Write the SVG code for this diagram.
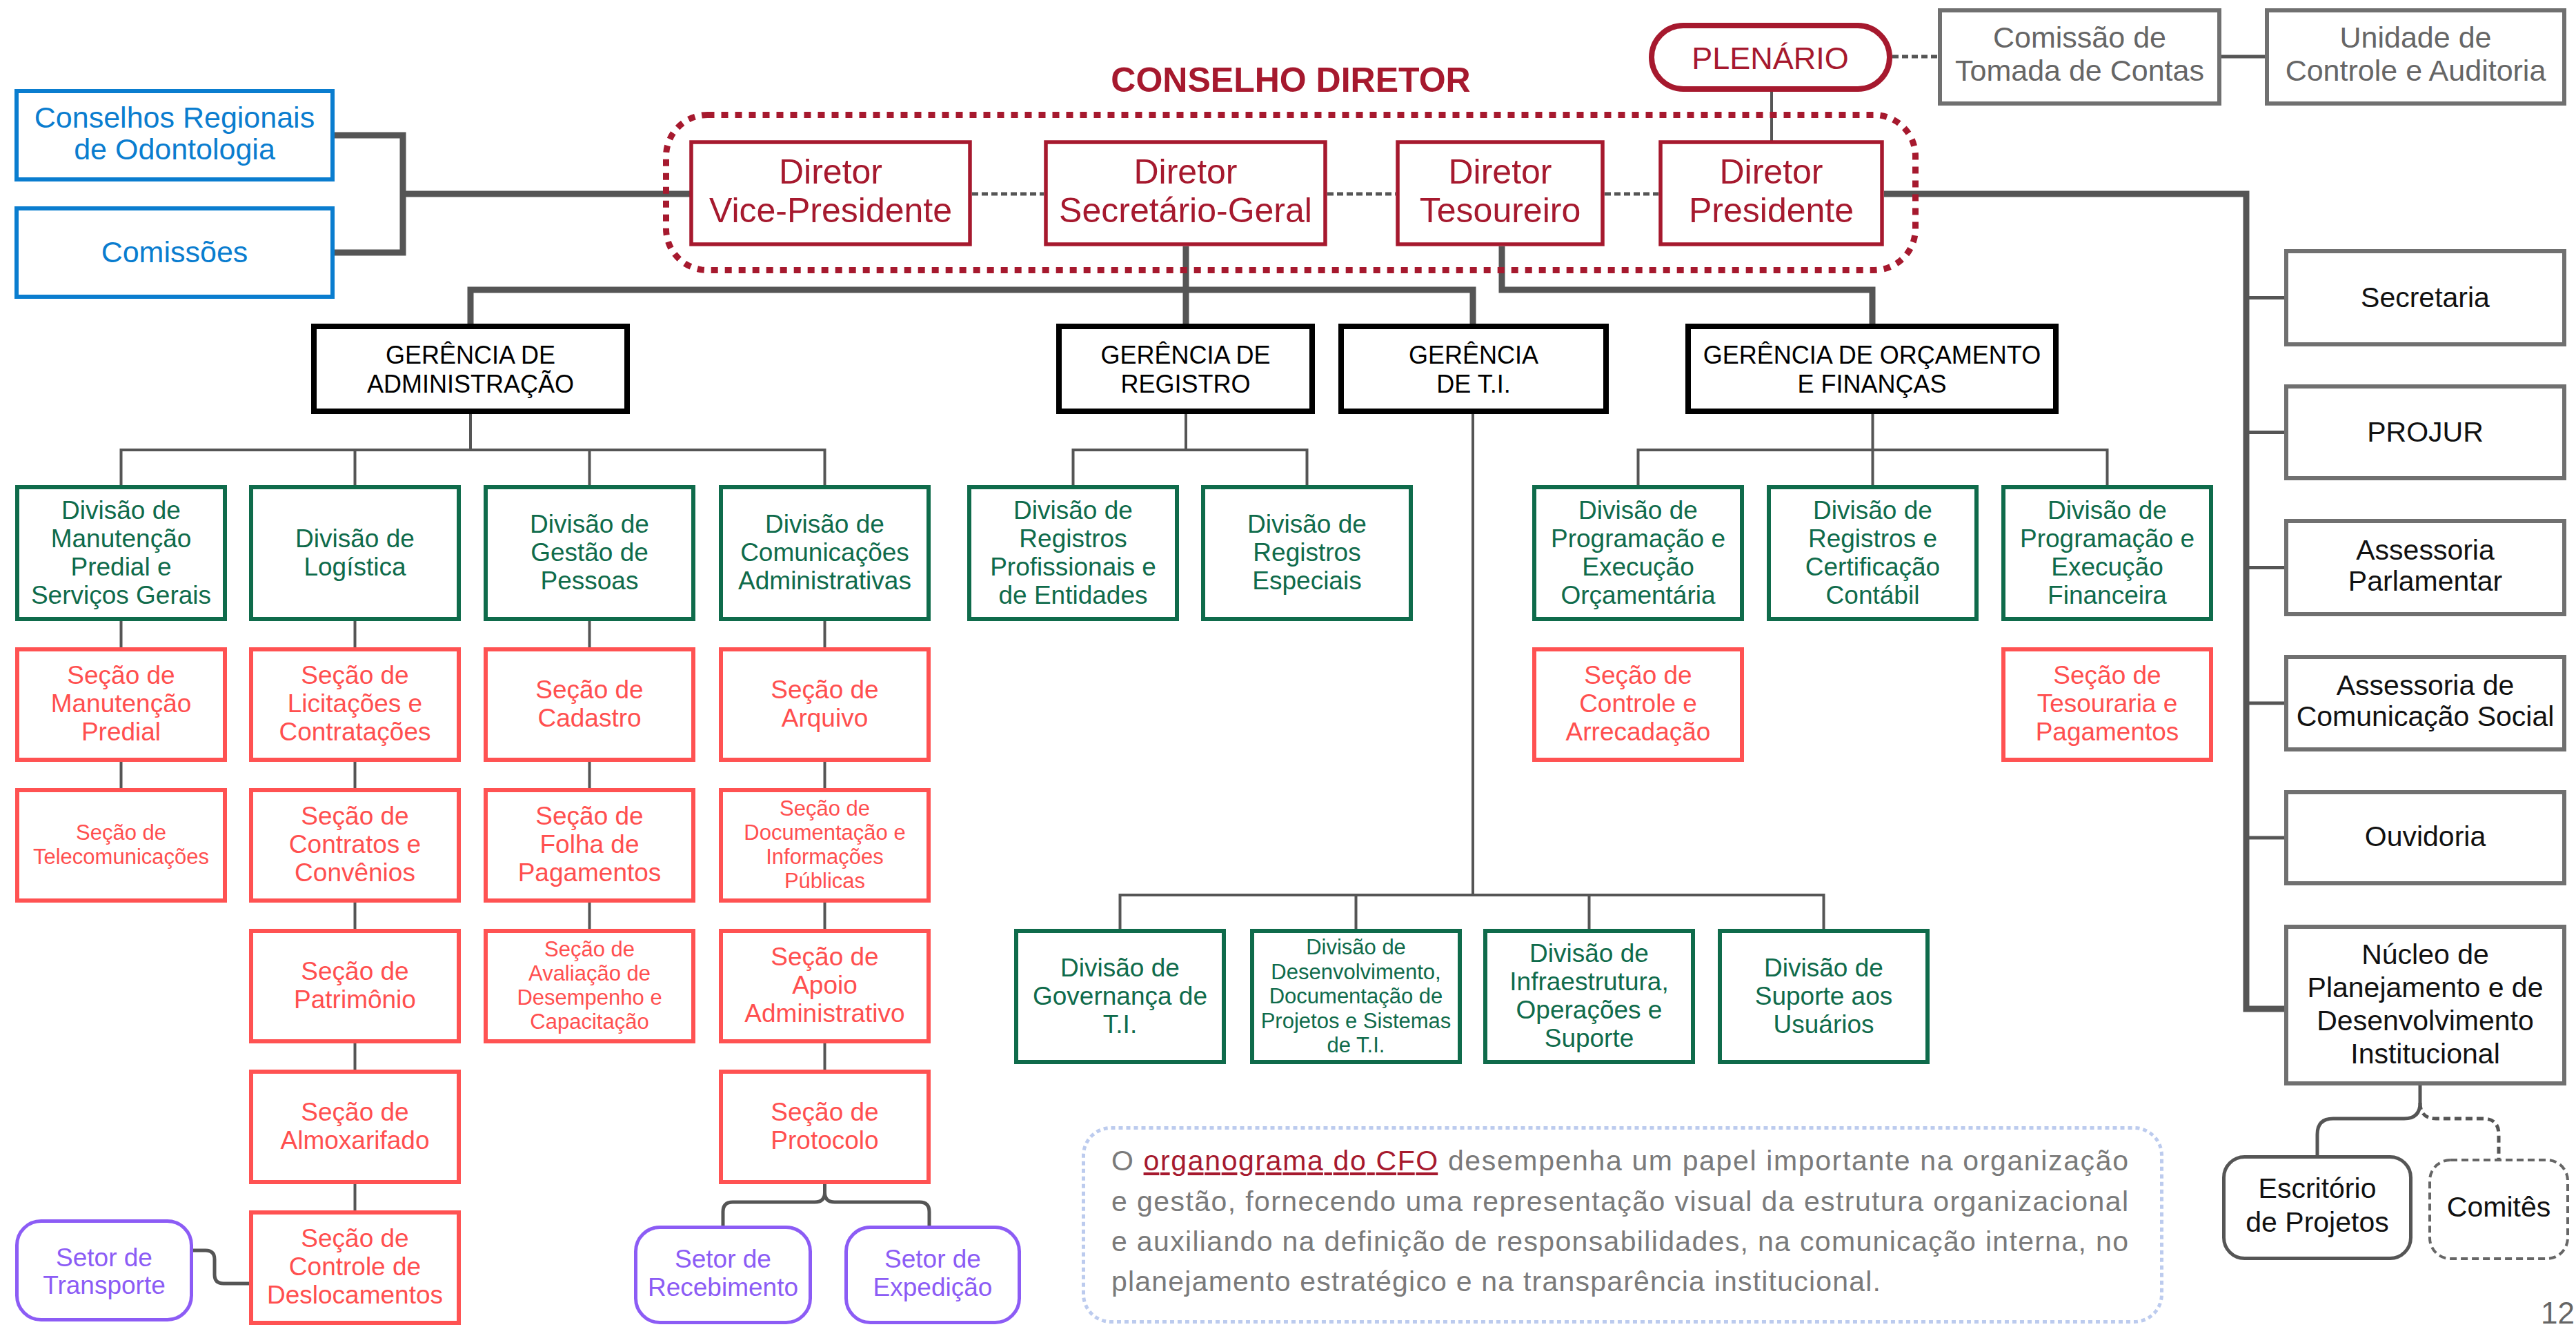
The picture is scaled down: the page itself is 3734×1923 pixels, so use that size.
<svg xmlns="http://www.w3.org/2000/svg" width="3734" height="1923" viewBox="0 0 3734 1923">
<defs>
<style>
text{font-family:"Liberation Sans",Arial,sans-serif;text-anchor:middle}
.bl{fill:#fff;stroke:#0A7DCF;stroke-width:6}
.tb{fill:#0A7DCF;font-size:43px}
.dr{fill:#fff;stroke:#A6192E;stroke-width:5.5}
.tdr{fill:#A6192E;font-size:50px}
.ge{fill:#fff;stroke:#000;stroke-width:8}
.tge{fill:#000;font-size:36px}
.dv{fill:#fff;stroke:#0F6B4B;stroke-width:6}
.tdv{fill:#0F6B4B;font-size:37px}
.tdvs{fill:#0F6B4B;font-size:31px}
.sc{fill:#fff;stroke:#FF5252;stroke-width:6}
.tsc{fill:#FF4F4F;font-size:37px}
.tscs{fill:#FF4F4F;font-size:31px}
.st{fill:#fff;stroke:#8C5CF5;stroke-width:5}
.tst{fill:#8C5CF5;font-size:37px}
.gr{fill:#fff;stroke:#707070;stroke-width:6}
.tgr{fill:#111;font-size:41px}
.tgg{fill:#666;font-size:43px}
.thick{fill:none;stroke:#555;stroke-width:9}
.thin{fill:none;stroke:#555;stroke-width:4}
.med{fill:none;stroke:#555;stroke-width:5}
.dash{fill:none;stroke:#555;stroke-width:5;stroke-dasharray:9 5}
.para{fill:#7a7a7a;font-size:41px;text-anchor:start}
</style>
</defs>
<rect width="3734" height="1923" fill="#fff"/>

<g id="connectors">
<path class="thick" d="M485,196 H584 V366 H485 M584,281 H1002"/>
<path class="thick" d="M2731,281 H3256 V1462 H3314"/>
<path class="thick" d="M1719,357 V473"/>
<path class="thick" d="M682,473 V420 H2135 V473"/>
<path class="thick" d="M2177,357 V420 H2714 V473"/>
<path class="med" d="M3256,431.5 H3314 M3256,626.5 H3314 M3256,822.5 H3314 M3256,1019 H3314 M3256,1214 H3314"/>
<path class="dash" d="M1409,281 H1513 M1924,281 H2023 M2326,281 H2404"/>
<path class="thin" d="M2568,133 V206"/>
<path class="dash" d="M2743,82 H2809"/>
<path class="med" d="M3220,82 H3283"/>
<path class="thin" d="M682,600 V652 M175.5,706 V652 H1195.5 V706 M514.5,652 V706 M854.5,652 V706"/>
<path class="thin" d="M1719,600 V652 M1555.5,706 V652 H1894.5 V706"/>
<path class="thin" d="M2135,600 V1297 M1623.5,1349 V1297 H2643.5 V1349 M1965.5,1297 V1349 M2303.5,1297 V1349"/>
<path class="thin" d="M2714.5,600 V706 M2374.5,706 V652 H3054.5 V706"/>
<path class="thin" d="M175.5,900 V938 M175.5,1104 V1142"/>
<path class="thin" d="M514.5,900 V938 M514.5,1104 V1142 M514.5,1308 V1346 M514.5,1512 V1550 M514.5,1716 V1754"/>
<path class="thin" d="M854.5,900 V938 M854.5,1104 V1142 M854.5,1308 V1346"/>
<path class="thin" d="M1195.5,900 V938 M1195.5,1104 V1142 M1195.5,1308 V1346 M1195.5,1512 V1550"/>
<path class="med" d="M280,1812 H298 Q311,1812 311,1825 V1847 Q311,1860 324,1860 H361"/>
<path class="med" d="M1195.5,1714 V1728 Q1195.5,1742 1181,1742 H1062 Q1048,1742 1048,1756 V1778 M1195.5,1728 Q1195.5,1742 1210,1742 H1333 Q1347,1742 1347,1756 V1778"/>
<path class="med" d="M3508,1573 V1598 Q3508,1621 3485,1621 H3382 Q3359,1621 3359,1644 V1676"/>
<path class="med" stroke-dasharray="10 6" d="M3508,1598 Q3508,1621 3531,1621 H3599 Q3622,1621 3622,1644 V1681"/>
</g>

<g id="conselho-diretor">
<rect x="965.5" y="166.5" width="1811" height="225" rx="60" fill="none" stroke="#A6192E" stroke-width="9" stroke-dasharray="10 10"/>
<text x="1871" y="133" fill="#A6192E" font-size="50" font-weight="bold">CONSELHO DIRETOR</text>
</g>

<g id="conselhos-regionais"><rect class="bl" x="24" y="132" width="458" height="128"/>
<text class="tb"><tspan x="253" y="185">Conselhos Regionais</tspan><tspan x="253" y="231">de Odontologia</tspan></text></g>
<g id="comissoes"><rect class="bl" x="24" y="302" width="458" height="128"/>
<text class="tb" x="253" y="380">Comissões</text></g>

<g id="dir-vice"><rect class="dr" x="1002" y="206" width="404" height="148"/>
<text class="tdr"><tspan x="1204" y="266">Diretor</tspan><tspan x="1204" y="322">Vice-Presidente</tspan></text></g>
<g id="dir-secretario"><rect class="dr" x="1516" y="206" width="405" height="148"/>
<text class="tdr"><tspan x="1718.5" y="266">Diretor</tspan><tspan x="1718.5" y="322">Secretário-Geral</tspan></text></g>
<g id="dir-tesoureiro"><rect class="dr" x="2026" y="206" width="297" height="148"/>
<text class="tdr"><tspan x="2174.5" y="266">Diretor</tspan><tspan x="2174.5" y="322">Tesoureiro</tspan></text></g>
<g id="dir-presidente"><rect class="dr" x="2407" y="206" width="321" height="148"/>
<text class="tdr"><tspan x="2567.5" y="266">Diretor</tspan><tspan x="2567.5" y="322">Presidente</tspan></text></g>

<g id="plenario"><rect x="2394" y="37" width="345" height="92" rx="46" fill="#fff" stroke="#A6192E" stroke-width="8"/>
<text x="2566" y="100" fill="#A6192E" font-size="45">PLENÁRIO</text></g>
<g id="comissao-tomada"><rect class="gr" x="2812" y="15" width="405" height="135"/>
<text class="tgg"><tspan x="3014.5" y="69">Comissão de</tspan><tspan x="3014.5" y="117">Tomada de Contas</tspan></text></g>
<g id="unidade-controle"><rect class="gr" x="3286" y="15" width="431" height="135"/>
<text class="tgg"><tspan x="3501.5" y="69">Unidade de</tspan><tspan x="3501.5" y="117">Controle e Auditoria</tspan></text></g>

<g id="ger-adm"><rect class="ge" x="455" y="473" width="454" height="123"/>
<text class="tge"><tspan x="682" y="527">GERÊNCIA DE</tspan><tspan x="682" y="569">ADMINISTRAÇÃO</tspan></text></g>
<g id="ger-registro"><rect class="ge" x="1535" y="473" width="367" height="123"/>
<text class="tge"><tspan x="1718.5" y="527">GERÊNCIA DE</tspan><tspan x="1718.5" y="569">REGISTRO</tspan></text></g>
<g id="ger-ti"><rect class="ge" x="1944" y="473" width="384" height="123"/>
<text class="tge"><tspan x="2136" y="527">GERÊNCIA</tspan><tspan x="2136" y="569">DE T.I.</tspan></text></g>
<g id="ger-orcamento"><rect class="ge" x="2447" y="473" width="533" height="123"/>
<text class="tge"><tspan x="2713.5" y="527">GERÊNCIA DE ORÇAMENTO</tspan><tspan x="2713.5" y="569">E FINANÇAS</tspan></text></g>

<g id="div-manutencao"><rect class="dv" x="25" y="706" width="301" height="191"/>
<text class="tdv"><tspan x="175.5" y="752">Divisão de</tspan><tspan x="175.5" y="793">Manutenção</tspan><tspan x="175.5" y="834">Predial e</tspan><tspan x="175.5" y="875">Serviços Gerais</tspan></text></g>
<g id="div-logistica"><rect class="dv" x="364" y="706" width="301" height="191"/>
<text class="tdv"><tspan x="514.5" y="793">Divisão de</tspan><tspan x="514.5" y="834">Logística</tspan></text></g>
<g id="div-gestao"><rect class="dv" x="704" y="706" width="301" height="191"/>
<text class="tdv"><tspan x="854.5" y="772">Divisão de</tspan><tspan x="854.5" y="813">Gestão de</tspan><tspan x="854.5" y="854">Pessoas</tspan></text></g>
<g id="div-comunicacoes"><rect class="dv" x="1045" y="706" width="301" height="191"/>
<text class="tdv"><tspan x="1195.5" y="772">Divisão de</tspan><tspan x="1195.5" y="813">Comunicações</tspan><tspan x="1195.5" y="854">Administrativas</tspan></text></g>
<g id="div-reg-prof"><rect class="dv" x="1405" y="706" width="301" height="191"/>
<text class="tdv"><tspan x="1555.5" y="752">Divisão de</tspan><tspan x="1555.5" y="793">Registros</tspan><tspan x="1555.5" y="834">Profissionais e</tspan><tspan x="1555.5" y="875">de Entidades</tspan></text></g>
<g id="div-reg-esp"><rect class="dv" x="1744" y="706" width="301" height="191"/>
<text class="tdv"><tspan x="1894.5" y="772">Divisão de</tspan><tspan x="1894.5" y="813">Registros</tspan><tspan x="1894.5" y="854">Especiais</tspan></text></g>
<g id="div-prog-orc"><rect class="dv" x="2224" y="706" width="301" height="191"/>
<text class="tdv"><tspan x="2374.5" y="752">Divisão de</tspan><tspan x="2374.5" y="793">Programação e</tspan><tspan x="2374.5" y="834">Execução</tspan><tspan x="2374.5" y="875">Orçamentária</tspan></text></g>
<g id="div-reg-cert"><rect class="dv" x="2564" y="706" width="301" height="191"/>
<text class="tdv"><tspan x="2714.5" y="752">Divisão de</tspan><tspan x="2714.5" y="793">Registros e</tspan><tspan x="2714.5" y="834">Certificação</tspan><tspan x="2714.5" y="875">Contábil</tspan></text></g>
<g id="div-prog-fin"><rect class="dv" x="2904" y="706" width="301" height="191"/>
<text class="tdv"><tspan x="3054.5" y="752">Divisão de</tspan><tspan x="3054.5" y="793">Programação e</tspan><tspan x="3054.5" y="834">Execução</tspan><tspan x="3054.5" y="875">Financeira</tspan></text></g>

<g id="sec-manutencao"><rect class="sc" x="25" y="941" width="301" height="160"/>
<text class="tsc"><tspan x="175.5" y="991">Seção de</tspan><tspan x="175.5" y="1032">Manutenção</tspan><tspan x="175.5" y="1073">Predial</tspan></text></g>
<g id="sec-telecom"><rect class="sc" x="25" y="1145" width="301" height="160"/>
<text class="tscs"><tspan x="175.5" y="1216.5">Seção de</tspan><tspan x="175.5" y="1251.5">Telecomunicações</tspan></text></g>

<g id="sec-licitacoes"><rect class="sc" x="364" y="941" width="301" height="160"/>
<text class="tsc"><tspan x="514.5" y="991">Seção de</tspan><tspan x="514.5" y="1032">Licitações e</tspan><tspan x="514.5" y="1073">Contratações</tspan></text></g>
<g id="sec-contratos"><rect class="sc" x="364" y="1145" width="301" height="160"/>
<text class="tsc"><tspan x="514.5" y="1195">Seção de</tspan><tspan x="514.5" y="1236">Contratos e</tspan><tspan x="514.5" y="1277">Convênios</tspan></text></g>
<g id="sec-patrimonio"><rect class="sc" x="364" y="1349" width="301" height="160"/>
<text class="tsc"><tspan x="514.5" y="1420">Seção de</tspan><tspan x="514.5" y="1461">Patrimônio</tspan></text></g>
<g id="sec-almoxarifado"><rect class="sc" x="364" y="1553" width="301" height="160"/>
<text class="tsc"><tspan x="514.5" y="1624">Seção de</tspan><tspan x="514.5" y="1665">Almoxarifado</tspan></text></g>
<g id="sec-deslocamentos"><rect class="sc" x="364" y="1757" width="301" height="160"/>
<text class="tsc"><tspan x="514.5" y="1807">Seção de</tspan><tspan x="514.5" y="1848">Controle de</tspan><tspan x="514.5" y="1889">Deslocamentos</tspan></text></g>

<g id="sec-cadastro"><rect class="sc" x="704" y="941" width="301" height="160"/>
<text class="tsc"><tspan x="854.5" y="1012">Seção de</tspan><tspan x="854.5" y="1053">Cadastro</tspan></text></g>
<g id="sec-folha"><rect class="sc" x="704" y="1145" width="301" height="160"/>
<text class="tsc"><tspan x="854.5" y="1195">Seção de</tspan><tspan x="854.5" y="1236">Folha de</tspan><tspan x="854.5" y="1277">Pagamentos</tspan></text></g>
<g id="sec-avaliacao"><rect class="sc" x="704" y="1349" width="301" height="160"/>
<text class="tscs"><tspan x="854.5" y="1385.5">Seção de</tspan><tspan x="854.5" y="1420.5">Avaliação de</tspan><tspan x="854.5" y="1455.5">Desempenho e</tspan><tspan x="854.5" y="1490.5">Capacitação</tspan></text></g>

<g id="sec-arquivo"><rect class="sc" x="1045" y="941" width="301" height="160"/>
<text class="tsc"><tspan x="1195.5" y="1012">Seção de</tspan><tspan x="1195.5" y="1053">Arquivo</tspan></text></g>
<g id="sec-documentacao"><rect class="sc" x="1045" y="1145" width="301" height="160"/>
<text class="tscs"><tspan x="1195.5" y="1181.5">Seção de</tspan><tspan x="1195.5" y="1216.5">Documentação e</tspan><tspan x="1195.5" y="1251.5">Informações</tspan><tspan x="1195.5" y="1286.5">Públicas</tspan></text></g>
<g id="sec-apoio"><rect class="sc" x="1045" y="1349" width="301" height="160"/>
<text class="tsc"><tspan x="1195.5" y="1399">Seção de</tspan><tspan x="1195.5" y="1440">Apoio</tspan><tspan x="1195.5" y="1481">Administrativo</tspan></text></g>
<g id="sec-protocolo"><rect class="sc" x="1045" y="1553" width="301" height="160"/>
<text class="tsc"><tspan x="1195.5" y="1624">Seção de</tspan><tspan x="1195.5" y="1665">Protocolo</tspan></text></g>

<g id="sec-controle-arrec"><rect class="sc" x="2224" y="941" width="301" height="160"/>
<text class="tsc"><tspan x="2374.5" y="991">Seção de</tspan><tspan x="2374.5" y="1032">Controle e</tspan><tspan x="2374.5" y="1073">Arrecadação</tspan></text></g>
<g id="sec-tesouraria"><rect class="sc" x="2904" y="941" width="301" height="160"/>
<text class="tsc"><tspan x="3054.5" y="991">Seção de</tspan><tspan x="3054.5" y="1032">Tesouraria e</tspan><tspan x="3054.5" y="1073">Pagamentos</tspan></text></g>

<g id="div-governanca"><rect class="dv" x="1473" y="1349" width="301" height="190"/>
<text class="tdv"><tspan x="1623.5" y="1414.5">Divisão de</tspan><tspan x="1623.5" y="1455.5">Governança de</tspan><tspan x="1623.5" y="1496.5">T.I.</tspan></text></g>
<g id="div-desenvolvimento"><rect class="dv" x="1815" y="1349" width="301" height="190"/>
<text class="tdvs"><tspan x="1965.5" y="1383">Divisão de</tspan><tspan x="1965.5" y="1418.5">Desenvolvimento,</tspan><tspan x="1965.5" y="1454">Documentação de</tspan><tspan x="1965.5" y="1489.5">Projetos e Sistemas</tspan><tspan x="1965.5" y="1525">de T.I.</tspan></text></g>
<g id="div-infraestrutura"><rect class="dv" x="2153" y="1349" width="301" height="190"/>
<text class="tdv"><tspan x="2303.5" y="1394">Divisão de</tspan><tspan x="2303.5" y="1435">Infraestrutura,</tspan><tspan x="2303.5" y="1476">Operações e</tspan><tspan x="2303.5" y="1517">Suporte</tspan></text></g>
<g id="div-suporte"><rect class="dv" x="2493" y="1349" width="301" height="190"/>
<text class="tdv"><tspan x="2643.5" y="1414.5">Divisão de</tspan><tspan x="2643.5" y="1455.5">Suporte aos</tspan><tspan x="2643.5" y="1496.5">Usuários</tspan></text></g>

<g id="setor-transporte"><rect class="st" x="24.5" y="1769.5" width="253" height="143" rx="35"/>
<text class="tst"><tspan x="151" y="1835">Setor de</tspan><tspan x="151" y="1875">Transporte</tspan></text></g>
<g id="setor-recebimento"><rect class="st" x="921.5" y="1778.5" width="253" height="138" rx="35"/>
<text class="tst"><tspan x="1048" y="1837">Setor de</tspan><tspan x="1048" y="1878">Recebimento</tspan></text></g>
<g id="setor-expedicao"><rect class="st" x="1226.5" y="1778.5" width="251" height="138" rx="35"/>
<text class="tst"><tspan x="1352" y="1837">Setor de</tspan><tspan x="1352" y="1878">Expedição</tspan></text></g>

<g id="secretaria"><rect class="gr" x="3314" y="364" width="403" height="135"/>
<text class="tgr" x="3515.5" y="445">Secretaria</text></g>
<g id="projur"><rect class="gr" x="3314" y="560" width="403" height="133"/>
<text class="tgr" x="3515.5" y="640">PROJUR</text></g>
<g id="assessoria-parlamentar"><rect class="gr" x="3314" y="755" width="403" height="135"/>
<text class="tgr"><tspan x="3515.5" y="811">Assessoria</tspan><tspan x="3515.5" y="856">Parlamentar</tspan></text></g>
<g id="assessoria-comunicacao"><rect class="gr" x="3314" y="952" width="403" height="134"/>
<text class="tgr"><tspan x="3515.5" y="1007">Assessoria de</tspan><tspan x="3515.5" y="1052">Comunicação Social</tspan></text></g>
<g id="ouvidoria"><rect class="gr" x="3314" y="1148" width="403" height="132"/>
<text class="tgr" x="3515.5" y="1226">Ouvidoria</text></g>
<g id="nucleo"><rect class="gr" x="3314" y="1343" width="403" height="227"/>
<text class="tgr"><tspan x="3515.5" y="1397">Núcleo de</tspan><tspan x="3515.5" y="1445">Planejamento e de</tspan><tspan x="3515.5" y="1493">Desenvolvimento</tspan><tspan x="3515.5" y="1541">Institucional</tspan></text></g>
<g id="escritorio"><rect x="3223.5" y="1676.5" width="271" height="147" rx="30" fill="#fff" stroke="#555" stroke-width="5"/>
<text class="tgr"><tspan x="3359" y="1736">Escritório</tspan><tspan x="3359" y="1785">de Projetos</tspan></text></g>
<g id="comites"><rect x="3522" y="1681" width="200" height="143" rx="30" fill="#fff" stroke="#666" stroke-width="4" stroke-dasharray="10 6"/>
<text class="tgr" x="3622" y="1763">Comitês</text></g>

<g id="info">
<rect x="1570.5" y="1634.5" width="1563" height="281" rx="40" fill="#fff" stroke="#BCCBEE" stroke-width="5" stroke-dasharray="6 5"/>
<text class="para" x="1611" y="1696" textLength="1474" lengthAdjust="spacing">O <tspan fill="#A6192E" text-decoration="underline">organograma do CFO</tspan> desempenha um papel importante na organização</text>
<text class="para" x="1611" y="1754.5" textLength="1474" lengthAdjust="spacing">e gestão, fornecendo uma representação visual da estrutura organizacional</text>
<text class="para" x="1611" y="1813" textLength="1474" lengthAdjust="spacing">e auxiliando na definição de responsabilidades, na comunicação interna, no</text>
<text class="para" x="1611" y="1871" textLength="1115" lengthAdjust="spacing">planejamento estratégico e na transparência institucional.</text>
</g>
<text x="3732" y="1918" fill="#666" font-size="44" style="text-anchor:end">12</text>
</svg>
